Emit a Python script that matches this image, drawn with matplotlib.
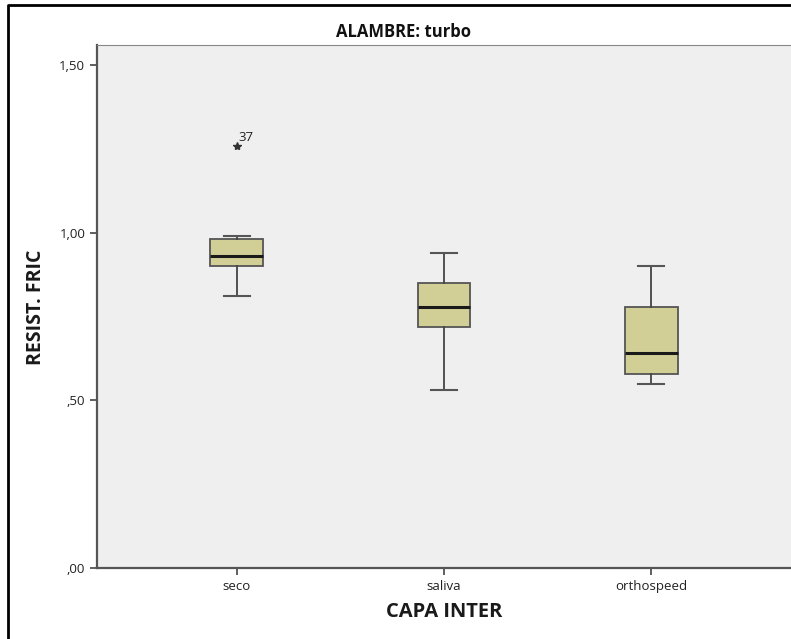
import matplotlib
matplotlib.use('Agg')
import matplotlib.pyplot as plt
from matplotlib.ticker import FuncFormatter

plt.rcParams['font.family'] = ['Open Sans', 'DejaVu Sans']

# data
grupos = ['seco', 'saliva', 'orthospeed']
whislo = [0.81, 0.53, 0.55]
q1 = [0.90, 0.72, 0.58]
med = [0.93, 0.78, 0.64]
q3 = [0.98, 0.85, 0.78]
whishi = [0.99, 0.94, 0.90]
outliers = [[1.26], [], []]
outlier_ids = [['37'], [], []]
yticks = [0.0, 0.5, 1.0, 1.5]

stats = []
for i in range(len(grupos)):
    stats.append(dict(label=grupos[i], whislo=whislo[i], q1=q1[i], med=med[i],
                      q3=q3[i], whishi=whishi[i], fliers=[]))

fig = plt.figure(figsize=(7.91, 6.39), dpi=100)
ax = fig.add_axes([97/791, 1-568/639, 1-97/791, (568-45)/639])
ax.set_facecolor('#efefef')

pos = list(range(1, len(grupos)+1))
ax.bxp(stats, positions=pos, widths=0.255, patch_artist=True, showfliers=False,
       boxprops=dict(facecolor='#d2cf96', edgecolor='#555555', linewidth=1.3),
       medianprops=dict(color='#1a1a1a', linewidth=2.2),
       whiskerprops=dict(color='#444444', linewidth=1.3),
       capprops=dict(color='#555555', linewidth=1.5),
       capwidths=0.125)

for i in range(len(grupos)):
    for v, lab in zip(outliers[i], outlier_ids[i]):
        ax.plot(pos[i], v, marker='*', color='#333333', markersize=6, linestyle='none')
        ax.annotate(lab, (pos[i], v), xytext=(1.5, 3), textcoords='offset points',
                    fontsize=9.5, color='#222222')

ax.set_xlim(0.327, 3.673)
ax.set_ylim(0, 1.56)
ax.set_yticks(yticks)
ax.yaxis.set_major_formatter(FuncFormatter(
    lambda v, p: ('%.2f' % v).replace('.', ',').lstrip('0') if v < 1 else ('%.2f' % v).replace('.', ',')))
ax.set_xticks(pos)
ax.set_xticklabels(grupos)
ax.tick_params(axis='both', labelsize=9.5, colors='#444444', labelcolor='#222222', length=5, width=1.2)

for s in ['left', 'bottom']:
    ax.spines[s].set_color('#555555')
    ax.spines[s].set_linewidth(1.6)
ax.spines['top'].set_color('#888888')
ax.spines['top'].set_linewidth(0.8)
ax.spines['right'].set_visible(False)

fig.text(36/791, 1-307/639, 'RESIST. FRIC', rotation=90, ha='center', va='center',
         fontsize=14, fontweight='bold', color='#1a1a1a')
fig.text(444/791, 1-612/639, 'CAPA INTER', ha='center', va='center',
         fontsize=14.5, fontweight='bold', color='#1a1a1a')
fig.text(404/791, 1-32/639, 'ALAMBRE: turbo', ha='center', va='center',
         fontsize=12, fontweight='bold', color='#111111')

# outer frame (left and top edges visible)
fig.add_artist(plt.Line2D([8/791, 8/791, 1], [0, 1-5/639, 1-5/639], color='black', linewidth=2))

fig.savefig('out.png', dpi=100)
